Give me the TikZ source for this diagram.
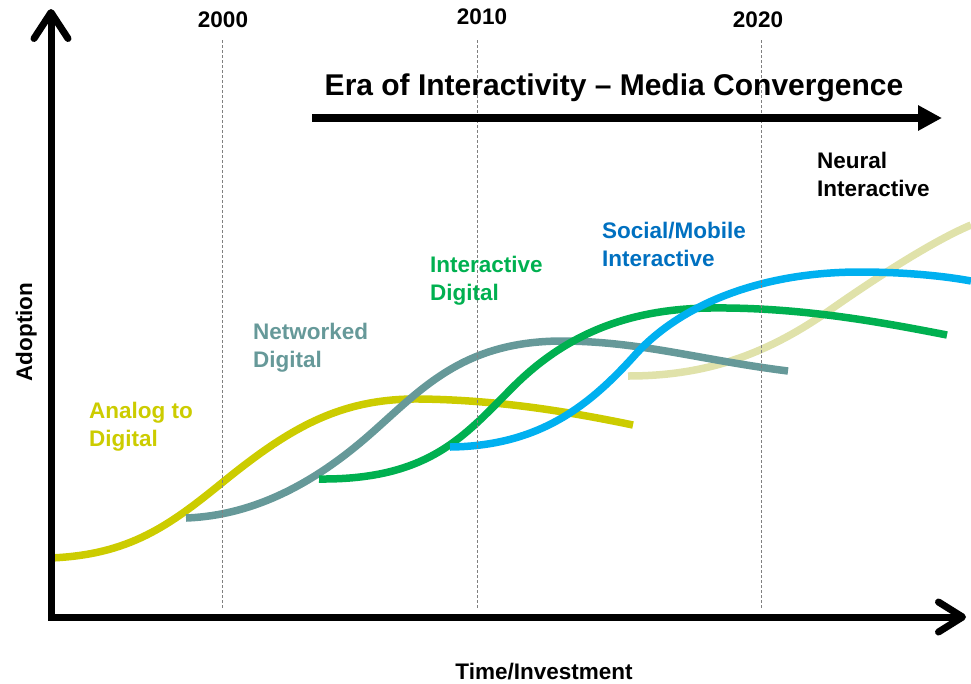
\documentclass[tikz,border=0pt]{standalone}
\usepackage{fontspec}
\setmainfont{Liberation Sans}
\usetikzlibrary{arrows.meta}
\definecolor{analog}{RGB}{204,204,0}
\definecolor{networked}{RGB}{102,153,153}
\definecolor{interdig}{RGB}{0,176,80}
\definecolor{social}{RGB}{0,176,240}
\definecolor{sociallbl}{RGB}{0,112,192}
\definecolor{neural}{RGB}{224,226,170}

\begin{document}
\begin{tikzpicture}[x=1pt,y=-1pt,
  curve/.style={line width=7.5pt},
  yearlbl/.style={font=\fontsize{22.5}{27}\selectfont\bfseries,inner sep=0pt},
  yearline/.style={gray,line width=0.8pt,densely dashed},
  lbl/.style={font=\fontsize{22.5}{27.5}\selectfont\bfseries,align=left,anchor=north west,inner sep=0pt}]
  \useasboundingbox (0,0) rectangle (971,683);
  \coordinate (ytop) at (51,9);
  \coordinate (O) at (51,617);
  \coordinate (xend) at (966,617);
  \coordinate (eraStart) at (312,118);
  \coordinate (eraEnd) at (942,118);

  % curves
  \draw[curve,neural] (628,376) .. controls (710,376) and (770,352) .. (830,310)
    .. controls (890,268) and (940,238) .. (971,225);
  \draw[curve,analog] (50,558) .. controls (130,555) and (170,525) .. (223,482)
    .. controls (289,428.5) and (340,398) .. (420,399) .. controls (500,400) and (570,412) .. (633,425);
  \draw[curve,networked] (186,518) .. controls (240,516) and (300,495) .. (367,437)
    .. controls (420,391) and (460,342) .. (560,341) .. controls (640,341) and (700,360) .. (788,371);
  \draw[curve,interdig] (319,479) .. controls (430,480) and (465,435) .. (513,387)
    .. controls (560,340) and (620,309) .. (710,308) .. controls (800,307) and (880,322) .. (947,335);
  \draw[curve,social] (450,447) .. controls (540,446) and (590,405) .. (635,355)
    .. controls (680,305) and (760,272) .. (860,272) .. controls (910,272) and (950,277) .. (971,281);

  % years
  \foreach \xl/\xt/\yt/\yr in {222/223/20/2000, 477/482/17/2010, 761/758/20/2020} {
    \node[yearlbl] (y\yr) at (\xt,\yt) {\yr};
    \draw[yearline] (\xl,40) -- (\xl,608);
  }

  % axes
  \draw[line width=7pt,{Straight Barb[length=26pt,width=34pt,round]}-{Straight Barb[length=24pt,width=30pt,round]}]
    (ytop) -- (O) -- (xend);
  \node[font=\fontsize{22.5}{27}\selectfont\bfseries,rotate=90,anchor=base] (adoption) at (32,332) {Adoption};
  \node[font=\fontsize{22.5}{27}\selectfont\bfseries,anchor=base] (time) at (544,679) {Time/Investment};

  % era
  \draw[line width=7.5pt,-{Triangle[length=24pt,width=24pt]}] (eraStart) -- (eraEnd);
  \node[font=\fontsize{30}{36}\selectfont\bfseries,anchor=base] (era) at (614,95) {Era of Interactivity -- Media Convergence};

  % labels
  \node[lbl,text=analog] (analogLbl) at (89,402) {Analog to\\Digital};
  \node[lbl,text=networked] (networkedLbl) at (253,323) {Networked\\Digital};
  \node[lbl,text=interdig] (interdigLbl) at (430,256) {Interactive\\Digital};
  \node[lbl,text=sociallbl] (socialLbl) at (602,222) {Social/Mobile\\Interactive};
  \node[lbl] (neuralLbl) at (817,152) {Neural\\Interactive};
\end{tikzpicture}
\end{document}
